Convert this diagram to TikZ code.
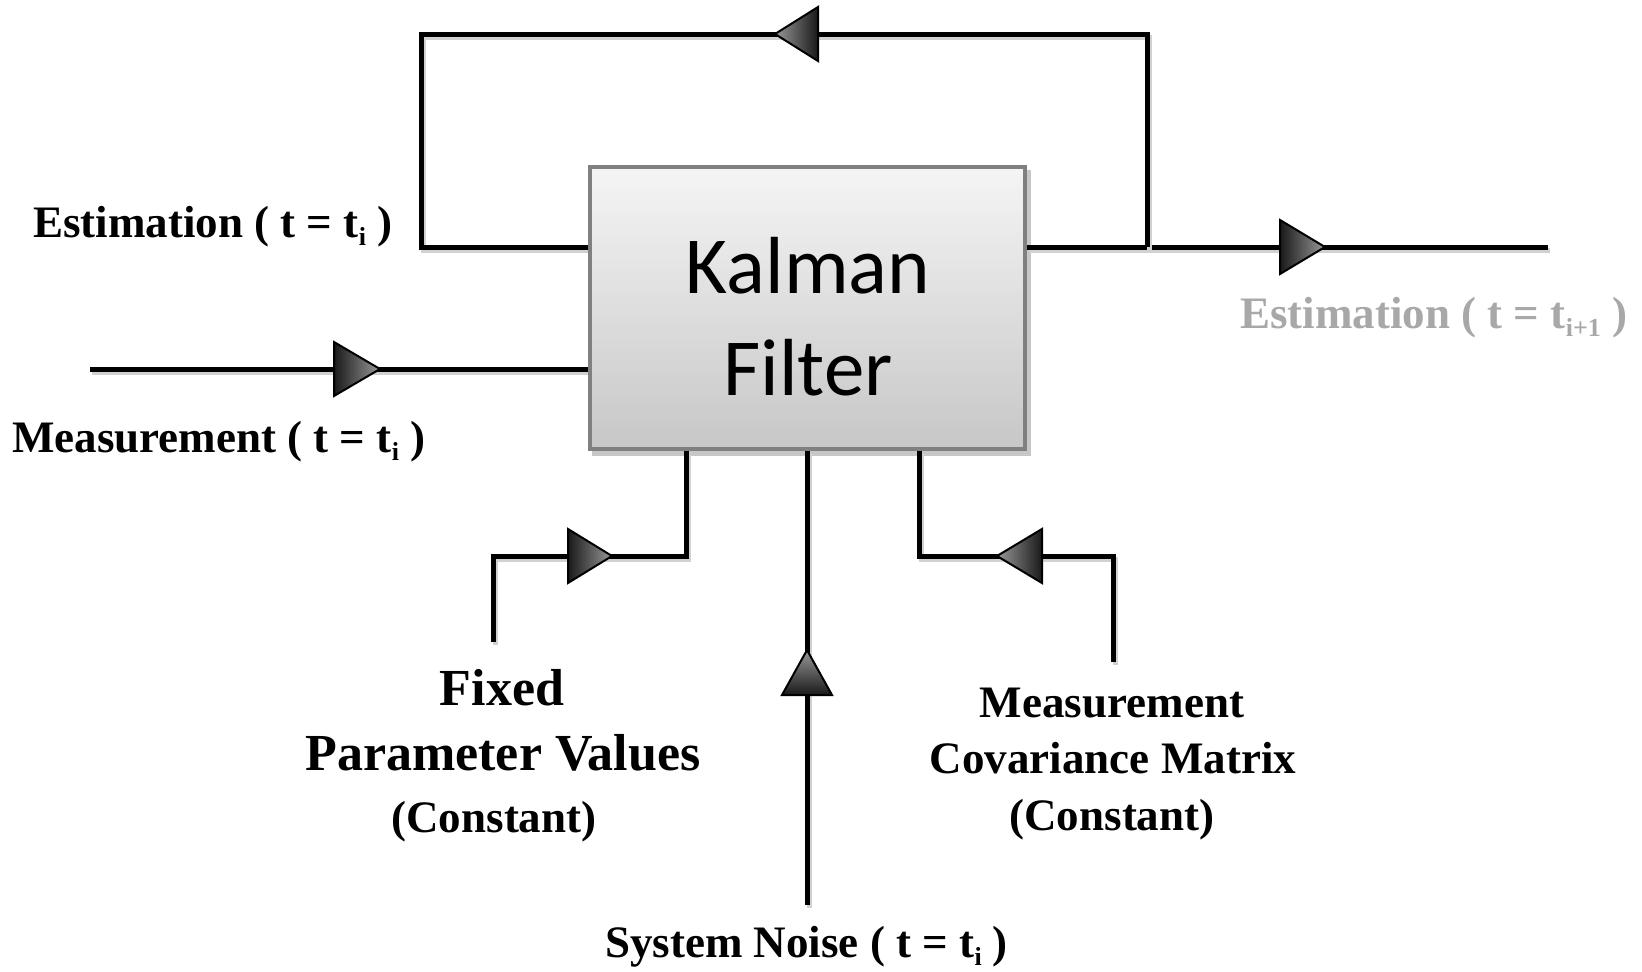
\documentclass[tikz,border=0pt]{standalone}
\usepackage{fontspec}
\setmainfont{Liberation Serif}
\newfontfamily\kalfont{Carlito}
\definecolor{lgray}{RGB}{168,168,168}
\newcommand\subi[1]{\raisebox{-8pt}{\fontsize{26}{26}\selectfont #1}}
\begin{document}
\begin{tikzpicture}[x=1pt,y=-1pt,
  wire/.style={line width=5pt, line join=miter,
    preaction={draw=black!18, line width=5pt, transform canvas={xshift=2pt,yshift=-3pt}}},
  kbox/.style={draw=black!50, line width=4pt, top color=black!4, bottom color=black!22,
    minimum width=435pt, minimum height=282pt, inner sep=0pt},
  kal/.style={font=\kalfont\fontsize{81}{100}\selectfont, inner sep=0pt},
  lab/.style={font=\fontsize{45}{54}\selectfont\bfseries, inner sep=0pt},
  big/.style={font=\fontsize{52}{60}\selectfont\bfseries, inner sep=0pt},
  tip/.style={draw=black, line width=2pt, line join=miter},
  tipR/.style={tip, left color=black!90, right color=black!40},
  tipL/.style={tip, left color=black!40, right color=black!90},
  tipU/.style={tip, top color=black!40, bottom color=black!90}]
\useasboundingbox[fill=white] (0,0) rectangle (1642,972);

% coordinates
\coordinate (jn) at (1147,247);
\coordinate (tr) at (1147,34);
\coordinate (tl) at (421,34);
\coordinate (bl) at (421,247);
\coordinate (outE) at (1548,247);
\coordinate (mS) at (90,369);
\coordinate (fe) at (493,642);
\coordinate (fc) at (493,556);
\coordinate (fb) at (686,556);
\coordinate (ce) at (1113,662);
\coordinate (cc) at (1113,556);
\coordinate (cb) at (919,556);
\coordinate (ne) at (807,905);

% box position (for connector references)
\path (807.5,308) node[kbox, draw=none, top color=white, bottom color=white, opacity=0] (kf) {};

% box shadow
\fill[black!22] ([xshift=4pt,yshift=-5pt]kf.north west) rectangle ([xshift=4pt,yshift=-5pt]kf.south east);

% connectors
\draw[wire] (kf.east |- jn) -- (outE);
\draw[wire] (jn) -- (tr) -- (tl) -- (bl) -- (bl -| kf.west);
\draw[wire] (mS) -- (mS -| kf.west);
\draw[wire] (fe) -- (fc) -- (fb) -- (fb |- kf.south);
\draw[wire] (ce) -- (cc) -- (cb) -- (cb |- kf.south);
\draw[wire] (ne) -- (ne |- kf.south);

% box
\node[kbox] (kbx) at (kf) {};
\node[kal, anchor=base] (k1) at (808,293) {Kalman};
\node[kal, anchor=base] (k2) at (808,395) {Filter};

% arrow heads
\path[tipL] (818,7) -- (775,34) -- (818,61) -- cycle;
\path[tipR] (1280,220) -- (1325,247) -- (1280,274) -- cycle;
\path[tipR] (334,342) -- (380,369) -- (334,396) -- cycle;
\path[tipR] (568,529) -- (612,556) -- (568,583) -- cycle;
\path[tipL] (1042,529) -- (997,556) -- (1042,583) -- cycle;
\path[tipU] (782,695) -- (807,650) -- (832,695) -- cycle;

% labels
\node[lab, anchor=base west] (l1) at (33,237) {Estimation ( t = t\subi{i} )};
\node[lab, anchor=base west] (l2) at (12,452) {Measurement ( t = t\subi{i} )};
\node[lab, anchor=base west, text=lgray] (l3) at (1240,328) {Estimation ( t = t\subi{i+1} )};
\node[big, anchor=base] (f1) at (502,705) {Fixed};
\node[big, anchor=base] (f2) at (503,770) {Parameter Values};
\node[lab, anchor=base] (f3) at (494,832) {(Constant)};
\node[lab, anchor=base] (c1) at (1112,717) {Measurement};
\node[lab, anchor=base] (c2) at (1113,773) {Covariance Matrix};
\node[lab, anchor=base] (c3) at (1112,830) {(Constant)};
\node[lab, anchor=base west] (n1) at (605,957) {System Noise ( t = t\subi{i} )};
\end{tikzpicture}
\end{document}
